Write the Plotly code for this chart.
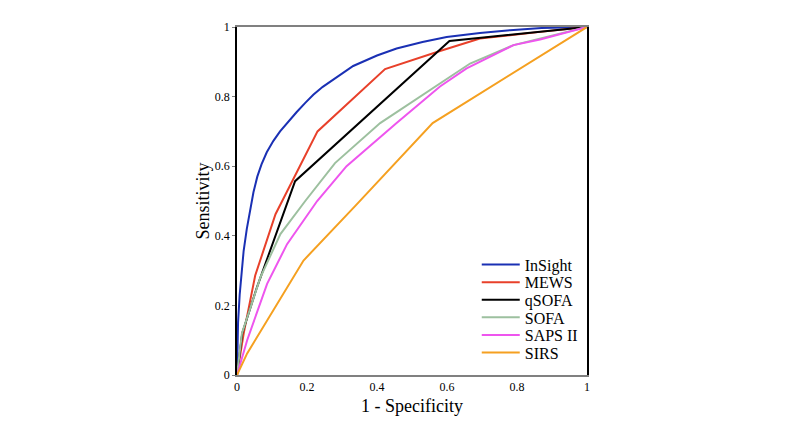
import plotly.graph_objects as go

# ROC curves
insight_x = [0, 0.001, 0.003, 0.0076, 0.013, 0.019, 0.028, 0.037, 0.047, 0.058, 0.07, 0.085, 0.104, 0.123, 0.145, 0.17, 0.195, 0.218, 0.245, 0.266, 0.30, 0.332, 0.40, 0.456, 0.53, 0.599, 0.694, 0.78, 0.87, 1]
insight_y = [0, 0.08, 0.15, 0.23, 0.30, 0.357, 0.42, 0.475, 0.525, 0.57, 0.605, 0.64, 0.673, 0.70, 0.727, 0.755, 0.782, 0.805, 0.828, 0.843, 0.867, 0.888, 0.918, 0.938, 0.957, 0.971, 0.983, 0.991, 0.997, 1]

mews_x = [0, 0.019, 0.052, 0.11, 0.23, 0.423, 0.58, 0.694, 0.866, 1]
mews_y = [0, 0.119, 0.286, 0.462, 0.70, 0.879, 0.931, 0.967, 0.986, 1]

qsofa_x = [0, 0.015, 0.057, 0.166, 0.607, 0.866, 1]
qsofa_y = [0, 0.12, 0.252, 0.557, 0.96, 0.986, 1]

sofa_x = [0, 0.014, 0.067, 0.124, 0.195, 0.28, 0.409, 0.551, 0.666, 0.79, 0.866, 1]
sofa_y = [0, 0.119, 0.281, 0.405, 0.50, 0.609, 0.724, 0.819, 0.895, 0.948, 0.967, 1]

saps_x = [0, 0.029, 0.086, 0.143, 0.229, 0.313, 0.456, 0.58, 0.656, 0.79, 0.866, 1]
saps_y = [0, 0.10, 0.262, 0.376, 0.50, 0.60, 0.724, 0.829, 0.881, 0.948, 0.964, 1]

sirs_x = [0, 0.029, 0.19, 0.338, 0.559, 1]
sirs_y = [0, 0.062, 0.329, 0.486, 0.724, 1]

names = ["InSight", "MEWS", "qSOFA", "SOFA", "SAPS II", "SIRS"]
colors = ["#1a30b4", "#e8402a", "#000000", "#9dc09f", "#ee55ee", "#f5a020"]
series = [(insight_x, insight_y), (mews_x, mews_y), (qsofa_x, qsofa_y),
          (sofa_x, sofa_y), (saps_x, saps_y), (sirs_x, sirs_y)]

tick_vals = [0, 0.2, 0.4, 0.6, 0.8, 1]
tick_text = ["0", "0.2", "0.4", "0.6", "0.8", "1"]

font = "Liberation Serif, Times New Roman, serif"

fig = go.Figure()
legend_layout = {}
for i, ((xs, ys), n, c) in enumerate(zip(series, names, colors)):
    key = "legend" if i == 0 else f"legend{i + 1}"
    fig.add_trace(go.Scatter(x=xs, y=ys, mode="lines", name=n,
                             line=dict(color=c, width=2), legend=key))
    legend_layout[key] = dict(
        x=0.685, y=(375 - (264 + 17.7 * i)) / 350,
        xanchor="left", yanchor="middle",
        font=dict(family=font, size=16, color="black"),
        bgcolor="rgba(0,0,0,0)", itemwidth=38, borderwidth=0)

fig.update_layout(
    width=800, height=425,
    margin=dict(l=229, r=221, t=17, b=58),
    paper_bgcolor="white", plot_bgcolor="white",
    font=dict(family=font, color="black"),
    showlegend=True,
    xaxis=dict(range=[0, 1], tickvals=tick_vals, ticktext=tick_text,
               showgrid=False, zeroline=False,
               showline=True, linecolor="#808080", linewidth=2, mirror=True,
               ticks="",
               tickfont=dict(family=font, size=12),
               title=dict(text="1 - Specificity", font=dict(family=font, size=18), standoff=6)),
    yaxis=dict(range=[0, 1], tickvals=tick_vals, ticktext=tick_text,
               showgrid=False, zeroline=False,
               showline=True, linecolor="black", linewidth=1.5, mirror=True,
               ticks="outside", ticklen=3, tickcolor="#808080",
               tickfont=dict(family=font, size=12),
               title=dict(text="Sensitivity", font=dict(family=font, size=18), standoff=1)),
    **legend_layout,
)

fig.write_html("out.html")
